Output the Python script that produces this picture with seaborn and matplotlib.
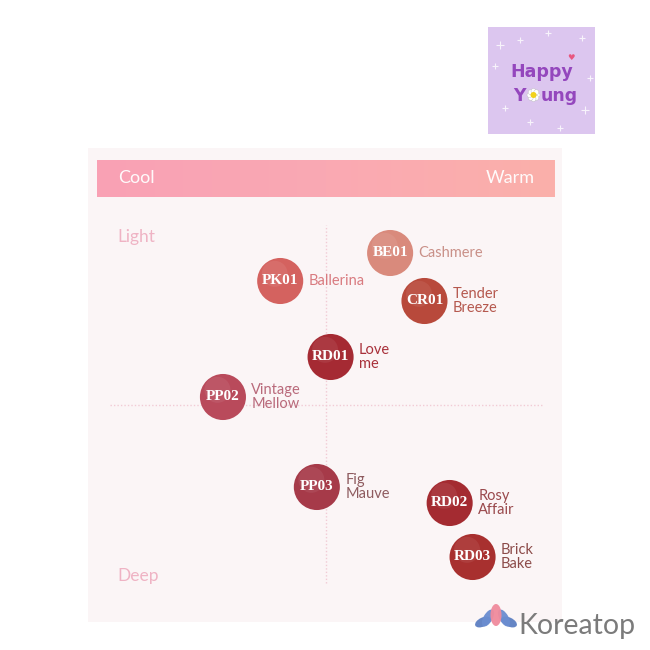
import numpy as np
import pandas as pd
import matplotlib
matplotlib.use("Agg")
import matplotlib.pyplot as plt
from matplotlib.patches import Rectangle, Ellipse
from matplotlib.colors import LinearSegmentedColormap
import seaborn as sns

# Shade codes, names and their place on the tone map
codes = ["BE01", "PK01", "CR01", "RD01", "PP02", "PP03", "RD02", "RD03"]
names = ["Cashmere", "Ballerina", "Tender\nBreeze", "Love\nme", "Vintage\nMellow",
         "Fig\nMauve", "Rosy\nAffair", "Brick\nBake"]
warmth = [1.4, -1.0, 2.15, 0.1, -2.25, -0.2, 2.7, 3.2]     # cool (-) .. warm (+)
depth = [3.8, 3.1, 2.6, 1.2, 0.2, -2.05, -2.45, -3.8]       # deep (-) .. light (+)
swatch_colors = ["#d98a7c", "#d4625f", "#b8493b", "#a52a33", "#b94a5b",
                 "#a63a49", "#a42b31", "#a8302f"]
label_colors = ["#c99088", "#d97b80", "#b5584e", "#a8303a", "#b96a7b",
                "#8e5b5f", "#9a4a4d", "#8c4b49"]
axis_top = ["Cool", "Warm"]
axis_side = ["Light", "Deep"]

df = pd.DataFrame({"code": codes, "name": names, "warmth": warmth, "depth": depth})

sns.set_theme(style="white")
plt.rcParams["font.family"] = ["Lato", "DejaVu Sans"]

W = H = 650
fig = plt.figure(figsize=(6.5, 6.5), dpi=100, facecolor="white")

# Background layer in pixel units: panel, logo, watermark
bg = fig.add_axes([0, 0, 1, 1], zorder=0)
bg.set_xlim(0, W)
bg.set_ylim(H, 0)
bg.axis("off")
bg.add_patch(Rectangle((88, 148), 474, 474, facecolor="#fbf5f6", edgecolor="none"))

# Happy Young badge
bg.add_patch(Rectangle((488, 27), 107, 107, facecolor="#dcc6ef", edgecolor="none"))
for sx, sy, ss in [(500, 45, 30), (548, 33, 25), (582, 38, 20), (495, 66, 20),
                   (585, 110, 30), (530, 122, 25), (560, 128, 20), (505, 108, 18),
                   (590, 78, 18), (520, 40, 15)]:
    bg.scatter(sx, sy, marker="+", s=ss, color="white", alpha=0.8, linewidths=0.8)
bg.text(542, 72, "Happy", ha="center", va="center", color="#9447bd",
        fontsize=12.5, fontweight="bold", family="DejaVu Sans")
bg.text(571, 57, "\u2665", ha="center", va="center", color="#e8577f",
        fontsize=6, family="DejaVu Sans")
bg.text(526, 96, "Y", ha="right", va="center", color="#9447bd",
        fontsize=12.5, fontweight="bold", family="DejaVu Sans")
bg.text(541, 96, "ung", ha="left", va="center", color="#9447bd",
        fontsize=12.5, fontweight="bold", family="DejaVu Sans")
for ang in np.linspace(0, 2 * np.pi, 8, endpoint=False):
    bg.add_patch(Ellipse((533.5 + 4 * np.cos(ang), 95 + 4 * np.sin(ang)), 5, 5,
                         facecolor="white", edgecolor="#bbbbbb", lw=0.3))
bg.add_patch(Ellipse((533.5, 95), 6, 6, facecolor="#f2d21b", edgecolor="none"))

# Koreatop watermark
lotus = [((483, 622), 9, 17, 65, "#5d7fc2"), ((509, 622), 9, 17, -65, "#5d7fc2"),
         ((488, 618), 9, 19, 30, "#6b8dd0"), ((504, 618), 9, 19, -30, "#6b8dd0"),
         ((496, 615), 11, 22, 0, "#f08b9d")]
for (cx, cy), ew, eh, ea, ec in lotus:
    bg.add_patch(Ellipse((cx, cy), ew, eh, angle=ea, facecolor=ec, edgecolor="none", alpha=0.95))
bg.text(518, 626, "Koreatop", ha="left", va="center", color="#7b7b7b", fontsize=20.5)

# Cool / Warm gradient band
band = fig.add_axes([97 / W, 1 - 197 / H, 458 / W, 37 / H], zorder=1)
grad = LinearSegmentedColormap.from_list("band", ["#f9a1b5", "#faa9b3", "#fbb0aa"])
band.imshow(np.linspace(0, 1, 256)[None, :], aspect="auto", cmap=grad,
            extent=[0, 1, 0, 1])
band.set_xlim(0, 1)
band.set_ylim(0, 1)
band.axis("off")
band.text(0.046, 0.5, axis_top[0], ha="left", va="center", color="white",
          fontsize=13, alpha=0.95)
band.text(0.956, 0.5, axis_top[1], ha="right", va="center", color="white",
          fontsize=13, alpha=0.95)

# Tone map
ax = fig.add_axes([97 / W, 1 - 605 / H, 458 / W, 400 / H], zorder=2)
ax.patch.set_alpha(0)
ax.set_xlim(-5, 5)
ax.set_ylim(-5, 5)
ax.axis("off")
ax.axvline(0, ymin=0.055, ymax=0.95, color="#f1cbd5", lw=1.0, ls=(0, (1, 1.5)), zorder=0)
ax.axhline(0, xmin=0.028, xmax=0.974, color="#f1cbd5", lw=1.0, ls=(0, (1, 1.5)), zorder=0)

sns.scatterplot(data=df, x="warmth", y="depth", hue="code",
                palette=dict(zip(codes, swatch_colors)), s=1100,
                edgecolor="none", legend=False, ax=ax, zorder=3)
# soft highlight on each swatch
ax.scatter(df["warmth"] - 0.12, df["depth"] + 0.18, s=350, color="white",
           alpha=0.07, edgecolor="none", zorder=4)

for code, name, x, y, lc in zip(codes, names, warmth, depth, label_colors):
    ax.text(x, y, code, ha="center", va="center", color="white", fontsize=11,
            fontweight="bold", family="Liberation Serif", zorder=5)
    ax.annotate(name, (x, y), xytext=(20.5, 0), textcoords="offset points",
                ha="left", va="center", color=lc, fontsize=10.5, linespacing=1.0,
                zorder=5)

ax.text(-4.55, 4.2, axis_side[0], ha="left", va="center", color="#efb3c4", fontsize=12.5)
ax.text(-4.55, -4.27, axis_side[1], ha="left", va="center", color="#efb3c4", fontsize=12.5)

fig.savefig("out.png", dpi=100, facecolor="white")
